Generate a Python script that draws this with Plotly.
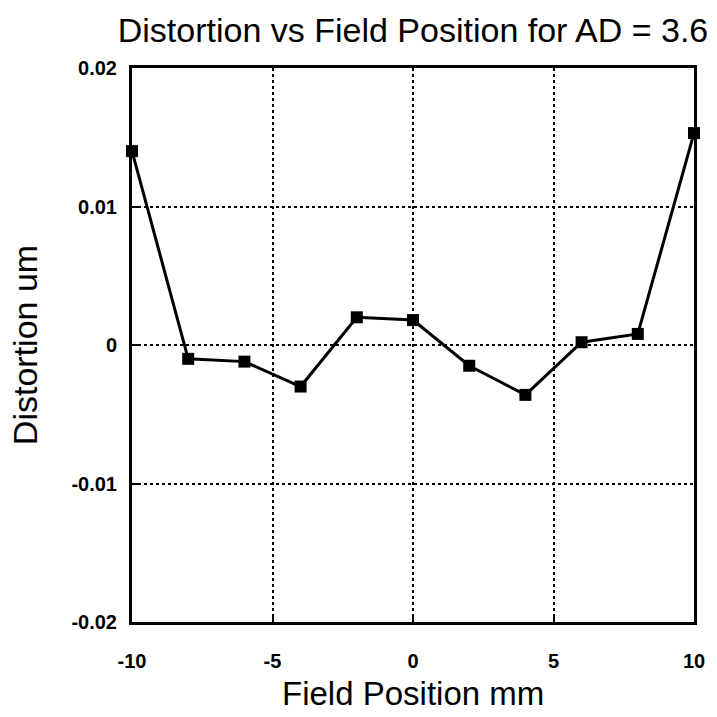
import plotly.graph_objects as go

# Field positions (mm) and measured distortion (um)
field_position = [-10, -8, -6, -4, -2, 0, 2, 4, 6, 8, 10]
distortion = [0.0140, -0.0010, -0.0012, -0.0030, 0.0020, 0.0018,
              -0.0015, -0.0036, 0.0002, 0.0008, 0.0153]

x_ticks = [-10, -5, 0, 5, 10]
x_tick_labels = ["-10", "-5", "0", "5", "10"]
y_ticks = [-0.02, -0.01, 0, 0.01, 0.02]
y_tick_labels = ["-0.02", "-0.01", "0", "0.01", "0.02"]

FONT = "Liberation Sans, Arial, Helvetica, sans-serif"

# Plot area geometry in pixels
FIG_W = FIG_H = 717
M_L, M_R, M_T, M_B = 132, 20, 68, 95
PLOT_H = FIG_H - M_T - M_B

fig = go.Figure()
fig.add_trace(go.Scatter(
    x=field_position, y=distortion,
    mode="lines+markers",
    line=dict(color="black", width=3),
    marker=dict(symbol="square", size=12, color="black"),
    cliponaxis=False,
    showlegend=False,
))

axis_common = dict(
    showline=True, linecolor="black", linewidth=3, mirror=True,
    showgrid=True, gridcolor="black", gridwidth=1.5, griddash="dot",
    zeroline=False,
    ticks="inside", ticklen=6, tickwidth=2, tickcolor="black",
    tickfont=dict(family=FONT, size=20, color="black", weight="bold"),
)

fig.update_xaxes(
    range=[-10, 10], tickvals=x_ticks, ticktext=x_tick_labels,
    ticklabelstandoff=19,
    **axis_common,
)
fig.update_yaxes(
    range=[-0.02, 0.02], tickvals=y_ticks, ticktext=y_tick_labels,
    ticklabelstandoff=8,
    title=dict(text="Distortion um", font=dict(family=FONT, size=34, color="black"),
               standoff=24),
    **axis_common,
)

# x-axis title placed just under the tick labels
fig.add_annotation(
    text="Field Position mm", showarrow=False,
    xref="paper", yref="paper", x=0.5, y=-(693 - (FIG_H - M_B)) / PLOT_H,
    xanchor="center", yanchor="middle",
    font=dict(family=FONT, size=33, color="black"),
)

fig.update_layout(
    width=FIG_W, height=FIG_H,
    margin=dict(l=M_L, r=M_R, t=M_T, b=M_B),
    paper_bgcolor="white", plot_bgcolor="white",
    title=dict(text="Distortion vs Field Position for AD = 3.6",
               font=dict(family=FONT, size=34, color="black"),
               x=413 / FIG_W, xanchor="center", y=1 - 30 / FIG_H, yanchor="middle"),
)

fig.write_html("out.html")
